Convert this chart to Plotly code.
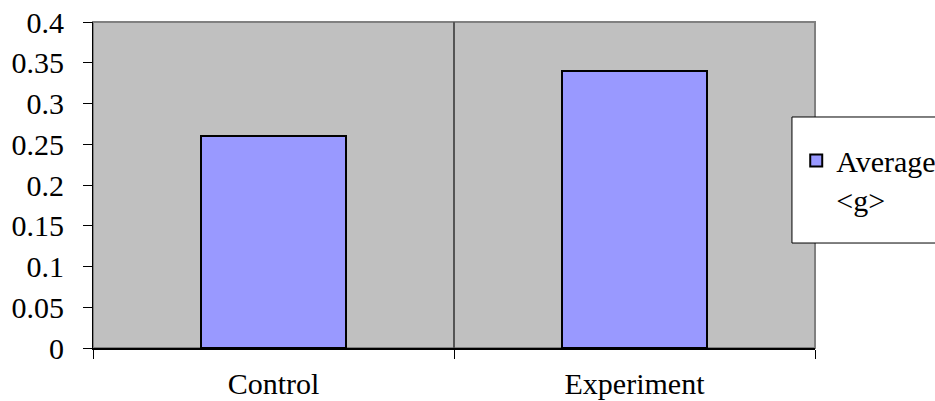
import plotly.graph_objects as go

# Normalized gain for each group
categories = ["Control", "Experiment"]
average_g = [0.26, 0.34]
series_name = "Average<br>&lt;g&gt;"

y_tickvals = [0, 0.05, 0.1, 0.15, 0.2, 0.25, 0.3, 0.35, 0.4]
y_ticktext = ["0", "0.05", "0.1", "0.15", "0.2", "0.25", "0.3", "0.35", "0.4"]

FONT = "Liberation Serif"
SIZE = 30

fig = go.Figure()
fig.add_trace(go.Bar(
    x=categories,
    y=average_g,
    name=series_name,
    width=0.4,
    marker=dict(color="#9999FF", line=dict(color="black", width=2)),
    showlegend=True,
))

# plot-area frame (grey, Excel style)
fig.add_shape(type="rect", xref="paper", yref="paper", x0=0, x1=1, y0=0, y1=1,
              line=dict(color="#808080", width=2), layer="below")
# legend box
fig.add_shape(type="rect", xref="paper", yref="paper",
              x0=0.9681, x1=1.25, y0=0.322, y1=0.7086,
              line=dict(color="black", width=1), fillcolor="white", layer="above")

fig.update_layout(
    width=935, height=401,
    margin=dict(l=93, r=120, t=22, b=53, autoexpand=False),
    paper_bgcolor="white",
    plot_bgcolor="#C0C0C0",
    font=dict(family=FONT, size=SIZE, color="black"),
    bargap=0,
    showlegend=True,
    legend=dict(
        x=0.974, xanchor="left",
        y=0.655, yanchor="top",
        bgcolor="rgba(0,0,0,0)", borderwidth=0,
        valign="top",
        font=dict(family=FONT, size=SIZE, color="black"),
    ),
    xaxis=dict(
        type="category",
        range=[-0.5, 1.5],
        tickson="boundaries",
        ticks="outside", ticklen=9, tickcolor="black", tickwidth=1,
        ticklabelstandoff=8,
        tickfont=dict(family=FONT, size=SIZE),
        showgrid=True, gridcolor="#555555", gridwidth=1.5,
        showline=True, linecolor="black", linewidth=1.5,
        zeroline=False,
        fixedrange=True,
    ),
    yaxis=dict(
        range=[0, 0.4],
        tickvals=y_tickvals, ticktext=y_ticktext,
        ticks="outside", ticklen=9, tickcolor="black", tickwidth=1,
        ticklabelstandoff=13,
        tickfont=dict(family=FONT, size=SIZE),
        showgrid=False, zeroline=False,
        showline=True, linecolor="black", linewidth=1,
        fixedrange=True,
    ),
)

fig.write_html("out.html")
